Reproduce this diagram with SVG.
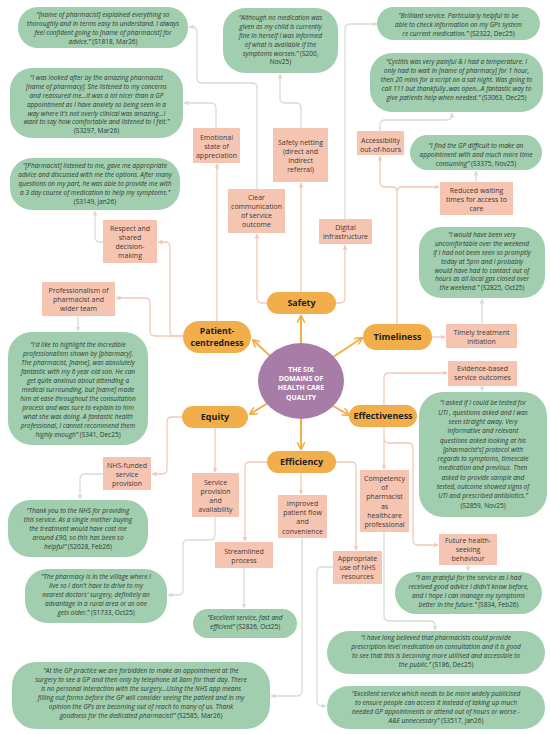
<svg xmlns="http://www.w3.org/2000/svg" width="550" height="734" viewBox="0 0 550 734">
<defs>
<style>
.q{fill:#a0ceae}
.p{fill:#f5c5b2}
.d{fill:#f1ae4b}
.qt{font-family:'Open Sans','Liberation Sans',sans-serif;font-style:italic;font-size:6.5px;fill:#2f3a34;text-anchor:middle}
.n{font-style:normal}
.pt{font-family:'Open Sans','Liberation Sans',sans-serif;font-size:7px;fill:#3d3a38;text-anchor:middle}
.dt{font-family:'Open Sans','Liberation Sans',sans-serif;font-weight:bold;font-size:9px;fill:#222;text-anchor:middle}
.ct{font-family:'Open Sans','Liberation Sans',sans-serif;font-weight:bold;font-size:6.9px;fill:#fff;text-anchor:middle}
.cp{fill:none;stroke:#f2c9ba;stroke-width:1.3}
.cg{fill:none;stroke:#d2e0d6;stroke-width:1.3}
.co{fill:none;stroke:#f1ae4b;stroke-width:2}
</style>
<marker id="ap" viewBox="0 0 10 10" refX="9" refY="5" markerWidth="5" markerHeight="5" orient="auto" markerUnits="userSpaceOnUse"><path d="M0,0 L10,5 L0,10 z" fill="#f2c9ba"/></marker>
<marker id="ag" viewBox="0 0 10 10" refX="9" refY="5" markerWidth="5" markerHeight="5" orient="auto" markerUnits="userSpaceOnUse"><path d="M0,0 L10,5 L0,10 z" fill="#d2e0d6"/></marker>
<marker id="ao" viewBox="0 0 10 10" refX="9" refY="5" markerWidth="8" markerHeight="8" orient="auto" markerUnits="userSpaceOnUse"><path d="M0,0 L10,5 L0,10" fill="none" stroke="#f1ae4b" stroke-width="2"/></marker>
</defs>
<rect width="550" height="734" fill="#fff"/>

<g id="connectors">
<path class="co" marker-end="url(#ao)" d="M301,343 V316"/>
<path class="co" marker-end="url(#ao)" d="M270,356 L253,340"/>
<path class="co" marker-end="url(#ao)" d="M333,357 L362,338"/>
<path class="co" marker-end="url(#ao)" d="M268,403 L250,414"/>
<path class="co" marker-end="url(#ao)" d="M333,406 L349,415"/>
<path class="co" marker-end="url(#ao)" d="M301,419 V449"/>
<path class="cp" marker-end="url(#ap)" d="M267,303 H262 Q257,303 257,298 V234"/>
<path class="cp" marker-end="url(#ap)" d="M301,292 V183"/>
<path class="cp" marker-end="url(#ap)" d="M336,303 H340 Q345,303 345,298 V245"/>
<path class="cp" marker-end="url(#ap)" d="M217,321 V164"/>
<path class="cp" marker-end="url(#ap)" d="M183,336 H175 Q170,336 170,331 V247 Q170,242 165,242 H158"/>
<path class="cp" marker-end="url(#ap)" d="M183,336 H155 Q150,336 150,331 V303 Q150,298 145,298 H116"/>
<path class="cp" marker-end="url(#ap)" d="M397,324 V192 Q397,187 392,187 H385 Q380,187 380,182 V156"/>
<path class="cp" marker-end="url(#ap)" d="M397,192 Q397,187 402,187 H439"/>
<path class="cp" marker-end="url(#ap)" d="M432,337 H445"/>
<path class="cp" marker-end="url(#ap)" d="M384,405 V378 Q384,373 389,373 H447"/>
<path class="cp" marker-end="url(#ap)" d="M384,427 V469"/>
<path class="cp" marker-end="url(#ap)" d="M384,438 Q384,443 389,443 H408 Q413,443 413,448 V540 Q413,545 418,545 H438"/>
<path class="cp" marker-end="url(#ap)" d="M215,428 V472"/>
<path class="cp" marker-end="url(#ap)" d="M182,417 H172 Q167,417 167,422 V469 Q167,474 162,474 H152"/>
<path class="cp" marker-end="url(#ap)" d="M301,473 V494"/>
<path class="cp" marker-end="url(#ap)" d="M267,462 H250 Q245,462 245,467 V541"/>
<path class="cp" marker-end="url(#ap)" d="M336,462 H351 Q356,462 356,467 V550"/>
<path class="cg" marker-end="url(#ag)" d="M257,189 V88 Q257,83 252,83 H202 Q197,83 197,78 V32 Q197,27 192,27 H189"/>
<path class="cg" marker-end="url(#ag)" d="M216,128 V108 Q216,103 211,103 H184"/>
<path class="cg" marker-end="url(#ag)" d="M301,128 V108 Q301,103 296,103 H285 Q280,103 280,98 V74"/>
<path class="cg" marker-end="url(#ag)" d="M345,219 V29 Q345,24 350,24 H377"/>
<path class="cg" marker-end="url(#ag)" d="M380,131 V125 Q380,120 385,120 H447 Q452,120 452,115 V113"/>
<path class="cg" marker-end="url(#ag)" d="M476,182 V171"/>
<path class="cg" marker-end="url(#ag)" d="M482,324 V299"/>
<path class="cg" marker-end="url(#ag)" d="M103,242 H100 Q95,242 95,237 V211"/>
<path class="cg" marker-end="url(#ag)" d="M78,316 V331"/>
<path class="cg" marker-end="url(#ag)" d="M482,386 V391"/>
<path class="cg" marker-end="url(#ag)" d="M384,532 V616 Q384,621 389,621 H430 Q435,621 435,626 V630"/>
<path class="cg" marker-end="url(#ag)" d="M468,565 V571"/>
<path class="cg" marker-end="url(#ag)" d="M103,474 H85 Q80,474 80,479 V499"/>
<path class="cg" marker-end="url(#ag)" d="M215,517 V535 Q215,540 210,540 H188 Q183,540 183,545 V590 Q183,595 178,595 H168"/>
<path class="cg" marker-end="url(#ag)" d="M244,568 V608"/>
<path class="cg" marker-end="url(#ag)" d="M302,538 V691 Q302,696 297,696 H271"/>
<path class="cg" marker-end="url(#ag)" d="M333,567 H322 Q317,567 317,572 V701 Q317,706 322,706 H326"/>
</g>

<g id="center">
<ellipse cx="301" cy="381" rx="43" ry="38" fill="#a77ca6"/>
<text class="ct"><tspan x="301" y="371.5">THE SIX</tspan><tspan x="301" y="380.9">DOMAINS OF</tspan><tspan x="301" y="390.3">HEALTH CARE</tspan><tspan x="301" y="399.7">QUALITY</tspan></text>
</g>

<g id="safety"><rect class="d" x="267" y="292" width="69" height="22" rx="11"/><text class="dt" x="301.5" y="306.2">Safety</text></g>
<g id="patient-centredness"><rect class="d" x="183" y="321" width="68" height="32" rx="16"/><text class="dt" style="font-size:8.7px"><tspan x="217" y="334.2">Patient-</tspan><tspan x="217" y="346.2">centredness</tspan></text></g>
<g id="timeliness"><rect class="d" x="363" y="324" width="69" height="26" rx="13"/><text class="dt" x="397.5" y="340.2">Timeliness</text></g>
<g id="equity"><rect class="d" x="182" y="406" width="66" height="22" rx="11"/><text class="dt" x="215" y="420.2">Equity</text></g>
<g id="effectiveness"><rect class="d" x="349" y="405" width="68" height="22" rx="11"/><text class="dt" x="383" y="419.2">Effectiveness</text></g>
<g id="efficiency"><rect class="d" x="267" y="451" width="69" height="22" rx="11"/><text class="dt" x="301.5" y="465.2">Efficiency</text></g>

<g id="p-emotional"><rect class="p" x="193" y="128" width="47" height="35"/><text class="pt"><tspan x="216.5" y="139.5">Emotional</tspan><tspan x="216.5" y="148.5">state of</tspan><tspan x="216.5" y="157.5">appreciation</tspan></text></g>
<g id="p-safetynet"><rect class="p" x="273" y="128" width="55" height="54"/><text class="pt"><tspan x="300.5" y="144.5">Safety netting</tspan><tspan x="300.5" y="153.5">(direct and</tspan><tspan x="300.5" y="162.5">indirect</tspan><tspan x="300.5" y="171.5">referral)</tspan></text></g>
<g id="p-access"><rect class="p" x="357" y="131" width="47" height="24"/><text class="pt"><tspan x="380.5" y="142.5">Accessibility</tspan><tspan x="380.5" y="151.5">out-of-hours</tspan></text></g>
<g id="p-reduced"><rect class="p" x="440" y="182" width="73" height="33"/><text class="pt"><tspan x="476.5" y="192.5">Reduced waiting</tspan><tspan x="476.5" y="201.5">times for access to</tspan><tspan x="476.5" y="210.5">care</tspan></text></g>
<g id="p-clear"><rect class="p" x="228" y="189" width="57" height="44"/><text class="pt"><tspan x="256.5" y="199.5">Clear</tspan><tspan x="256.5" y="208.5">communication</tspan><tspan x="256.5" y="217.5">of service</tspan><tspan x="256.5" y="226.5">outcome</tspan></text></g>
<g id="p-digital"><rect class="p" x="319" y="219" width="53" height="25"/><text class="pt"><tspan x="345.5" y="229.5">Digital</tspan><tspan x="345.5" y="238.5">infrastructure</tspan></text></g>
<g id="p-respect"><rect class="p" x="103" y="220" width="54" height="43"/><text class="pt"><tspan x="130" y="230.5">Respect and</tspan><tspan x="130" y="239.5">shared</tspan><tspan x="130" y="248.5">decision-</tspan><tspan x="130" y="257.5">making</tspan></text></g>
<g id="p-prof"><rect class="p" x="42" y="282" width="73" height="34"/><text class="pt"><tspan x="78.5" y="292.5">Professionalism of</tspan><tspan x="78.5" y="301.5">pharmacist and</tspan><tspan x="78.5" y="310.5">wider team</tspan></text></g>
<g id="p-timely"><rect class="p" x="446" y="324" width="71" height="24"/><text class="pt"><tspan x="481.5" y="334.5">Timely treatment</tspan><tspan x="481.5" y="343.5">initiation</tspan></text></g>
<g id="p-evidence"><rect class="p" x="448" y="361" width="69" height="25"/><text class="pt"><tspan x="482.5" y="370.8">Evidence-based</tspan><tspan x="482.5" y="380">service outcomes</tspan></text></g>
<g id="p-nhs"><rect class="p" x="103" y="457" width="48" height="33"/><text class="pt"><tspan x="127" y="467.5">NHS-funded</tspan><tspan x="127" y="476.5">service</tspan><tspan x="127" y="485.5">provision</tspan></text></g>
<g id="p-service"><rect class="p" x="192" y="473" width="47" height="44"/><text class="pt"><tspan x="215.5" y="484.5">Service</tspan><tspan x="215.5" y="493.5">provision</tspan><tspan x="215.5" y="502.5">and</tspan><tspan x="215.5" y="511.5">availability</tspan></text></g>
<g id="p-improved"><rect class="p" x="278" y="495" width="49" height="43"/><text class="pt"><tspan x="302.5" y="505.5">Improved</tspan><tspan x="302.5" y="514.5">patient flow</tspan><tspan x="302.5" y="524">and</tspan><tspan x="302.5" y="533.5">convenience</tspan></text></g>
<g id="p-compet"><rect class="p" x="360" y="470" width="49" height="62"/><text class="pt"><tspan x="384.5" y="480.5">Competency</tspan><tspan x="384.5" y="489.5">of</tspan><tspan x="384.5" y="499">pharmacist</tspan><tspan x="384.5" y="508.5">as</tspan><tspan x="384.5" y="517.5">healthcare</tspan><tspan x="384.5" y="526.5">professional</tspan></text></g>
<g id="p-future"><rect class="p" x="439" y="534" width="58" height="31"/><text class="pt"><tspan x="468" y="542.5">Future health-</tspan><tspan x="468" y="551.5">seeking</tspan><tspan x="468" y="560.5">behaviour</tspan></text></g>
<g id="p-stream"><rect class="p" x="215" y="542" width="58" height="26"/><text class="pt"><tspan x="244" y="553.5">Streamlined</tspan><tspan x="244" y="563">process</tspan></text></g>
<g id="p-approp"><rect class="p" x="333" y="551" width="49" height="33"/><text class="pt"><tspan x="357.5" y="560.5">Appropriate</tspan><tspan x="357.5" y="569.5">use of NHS</tspan><tspan x="357.5" y="578.5">resources</tspan></text></g>

<g id="q1"><rect class="q" x="18" y="7" width="170" height="41" rx="20"/><text class="qt"><tspan x="103" y="17.3">“[name of pharmacist] explained everything so</tspan><tspan x="103" y="26.3">thoroughly and in terms easy to understand. I always</tspan><tspan x="103" y="35.3">feel confident going to [name of pharmacist] for</tspan><tspan x="103" y="44.3">advice.” <tspan class="n">(S1818, Mar26)</tspan></tspan></text></g>
<g id="q2"><rect class="q" x="10" y="68" width="173" height="70" rx="22"/><text class="qt"><tspan x="96.5" y="80.3">“I was looked after by the amazing pharmacist</tspan><tspan x="96.5" y="89.1">[name of pharmacy]. She listened to my concerns</tspan><tspan x="96.5" y="97.9">and reassured me...it was a lot nicer than a GP</tspan><tspan x="96.5" y="106.7">appointment as I have anxiety so being seen in a</tspan><tspan x="96.5" y="115.5">way where it's not overly clinical was amazing...I</tspan><tspan x="96.5" y="124.3">want to say how comfortable and listened to I felt.”</tspan><tspan x="96.5" y="133.1" class="n">(S3297, Mar26)</tspan></text></g>
<g id="q3"><rect class="q" x="10" y="158" width="170" height="52" rx="22"/><text class="qt"><tspan x="95" y="168.3">“[Pharmacist] listened to me, gave me appropriate</tspan><tspan x="95" y="177.3">advice and discussed with me the options. After many</tspan><tspan x="95" y="186.3">questions on my part, he was able to provide me with</tspan><tspan x="95" y="195.3">a 3 day course of medication to help my symptoms.”</tspan><tspan x="95" y="204.3" class="n">(S3149, Jan26)</tspan></text></g>
<g id="q4"><rect class="q" x="223" y="8" width="115" height="65" rx="22"/><text class="qt"><tspan x="280.5" y="20.3">“Although no medication was</tspan><tspan x="280.5" y="29.1">given as my child is currently</tspan><tspan x="280.5" y="37.9">fine in herself I was informed</tspan><tspan x="280.5" y="46.7">of what is available if the</tspan><tspan x="280.5" y="55.5">symptoms worsen.” <tspan class="n">(S200,</tspan></tspan><tspan x="280.5" y="64.3" class="n">Nov25)</tspan></text></g>
<g id="q5"><rect class="q" x="377" y="7" width="163" height="33" rx="16.5"/><text class="qt"><tspan x="458.5" y="18.3">“Brilliant service. Particularly helpful to be</tspan><tspan x="458.5" y="27.3">able to check information on my GPs system</tspan><tspan x="458.5" y="36.3">re current medication.” <tspan class="n">(S2322, Dec25)</tspan></tspan></text></g>
<g id="q6"><rect class="q" x="370" y="53" width="173" height="59" rx="22"/><text class="qt"><tspan x="456.5" y="64.3">“Cystitis was very painful &amp; I had a temperature. I</tspan><tspan x="456.5" y="73.3">only had to wait in [name of pharmacy] for 1 hour,</tspan><tspan x="456.5" y="82.3">then 20 mins for a script on a sat night. Was going to</tspan><tspan x="456.5" y="91.3">call 111 but thankfully..was open...A fantastic way to</tspan><tspan x="456.5" y="100.3">give patients help when needed.” <tspan class="n">(S3063, Dec25)</tspan></tspan></text></g>
<g id="q7"><rect class="q" x="410" y="135" width="132" height="35" rx="17.5"/><text class="qt"><tspan x="476" y="148.3">“I find the GP difficult to make an</tspan><tspan x="476" y="157.3">appointment with and much more time</tspan><tspan x="476" y="166.3">consuming” <tspan class="n">(S3375, Nov25)</tspan></tspan></text></g>
<g id="q8"><rect class="q" x="419" y="227" width="126" height="71" rx="22"/><text class="qt"><tspan x="482" y="237.3">“I would have been very</tspan><tspan x="482" y="246.1">uncomfortable over the weekend</tspan><tspan x="482" y="254.9">if I had not been seen so promptly</tspan><tspan x="482" y="263.7">today at 5pm and I probably</tspan><tspan x="482" y="272.5">would have had to contact out of</tspan><tspan x="482" y="281.3">hours as all local gps closed over</tspan><tspan x="482" y="290.1">the weekend.” <tspan class="n">(S2825, Oct25)</tspan></tspan></text></g>
<g id="q9"><rect class="q" x="419" y="392" width="128" height="125" rx="24"/><text class="qt"><tspan x="483" y="405.3">“I asked if I could be tested for</tspan><tspan x="483" y="414.6">UTI , questions asked and I was</tspan><tspan x="483" y="423.9">seen straight away. Very</tspan><tspan x="483" y="433.2">informative and relevant</tspan><tspan x="483" y="442.5">questions asked looking at his</tspan><tspan x="483" y="451.8">[pharmacist's] protocol with</tspan><tspan x="483" y="461.1">regards to symptoms, timescale</tspan><tspan x="483" y="470.4">medication and previous. Then</tspan><tspan x="483" y="479.7">asked to provide sample and</tspan><tspan x="483" y="489">tested, outcome showed signs of</tspan><tspan x="483" y="498.3">UTI and prescribed antibiotics.”</tspan><tspan x="483" y="507.6" class="n">(S2859, Nov25)</tspan></text></g>
<g id="q10"><rect class="q" x="395" y="572" width="147" height="42" rx="21"/><text class="qt"><tspan x="468.5" y="580.3">“I am grateful for the service as I had</tspan><tspan x="468.5" y="589.3">received good advice I didn't know before,</tspan><tspan x="468.5" y="598.3">and I hope I can manage my symptoms</tspan><tspan x="468.5" y="607.3">better in the future.” <tspan class="n">(S834, Feb26)</tspan></tspan></text></g>
<g id="q11"><rect class="q" x="327" y="631" width="218" height="43" rx="21.5"/><text class="qt"><tspan x="436" y="640.3">“I have long believed that pharmacists could provide</tspan><tspan x="436" y="649.3">prescription level medication on consultation and it is good</tspan><tspan x="436" y="658.3">to see that this is becoming more utilised and accessible to</tspan><tspan x="436" y="667.3">the public.” <tspan class="n">(S186, Dec25)</tspan></tspan></text></g>
<g id="q12"><rect class="q" x="327" y="686" width="218" height="43" rx="21.5"/><text class="qt"><tspan x="436" y="696.3">“Excellent service which needs to be more widely publicised</tspan><tspan x="436" y="705.3">to ensure people can access it instead of taking up much</tspan><tspan x="436" y="714.3">needed GP appointments or attend out of hours or worse -</tspan><tspan x="436" y="723.3">A&amp;E unnecessary” <tspan class="n">(S3517, Jan26)</tspan></tspan></text></g>
<g id="q13"><rect class="q" x="12" y="662" width="258" height="67" rx="24"/><text class="qt"><tspan x="141" y="673.3">“At the GP practice we are forbidden to make an appointment at the</tspan><tspan x="141" y="682.3">surgery to see a GP and then only by telephone at 8am for that day. There</tspan><tspan x="141" y="691.3">is no personal interaction with the surgery...Using the NHS app means</tspan><tspan x="141" y="700.3">filling out forms before the GP will consider seeing the patient and in my</tspan><tspan x="141" y="709.3">opinion the GPs are becoming out of reach to many of us. Thank</tspan><tspan x="141" y="718.3">goodness for the dedicated pharmacist!” <tspan class="n">(S2585, Mar26)</tspan></tspan></text></g>
<g id="q14"><rect class="q" x="193" y="609" width="104" height="29" rx="14.5"/><text class="qt"><tspan x="245" y="620.3">“Excellent service, fast and</tspan><tspan x="245" y="629.3">efficient” <tspan class="n">(S2826, Oct25)</tspan></tspan></text></g>
<g id="q15"><rect class="q" x="25" y="569" width="142" height="54" rx="22"/><text class="qt"><tspan x="96" y="579.3">“The pharmacy is in the village where I</tspan><tspan x="96" y="588.3">live so I don't have to drive to my</tspan><tspan x="96" y="597.3">nearest doctors' surgery, definitely an</tspan><tspan x="96" y="606.3">advantage in a rural area or as one</tspan><tspan x="96" y="615.3">gets older.” <tspan class="n">(S1733, Oct25)</tspan></tspan></text></g>
<g id="q16"><rect class="q" x="8" y="500" width="140" height="57" rx="22"/><text class="qt"><tspan x="78" y="513.3">“Thank you to the NHS for providing</tspan><tspan x="78" y="522.3">this service. As a single mother buying</tspan><tspan x="78" y="531.3">the treatment would have cost me</tspan><tspan x="78" y="540.3">around £90, so this has been so</tspan><tspan x="78" y="549.3">helpful” <tspan class="n">(S2028, Feb26)</tspan></tspan></text></g>
<g id="q17"><rect class="q" x="8" y="332" width="140" height="113" rx="24"/><text class="qt"><tspan x="78" y="347.3">“I'd like to highlight the incredible</tspan><tspan x="78" y="356.3">professionalism shown by [pharmacy].</tspan><tspan x="78" y="365.2">The pharmacist, [name], was absolutely</tspan><tspan x="78" y="374.1">fantastic with my 6 year old son. He can</tspan><tspan x="78" y="383.1">get quite anxious about attending a</tspan><tspan x="78" y="392">medical surrounding, but [name] made</tspan><tspan x="78" y="401">him at ease throughout the consultation</tspan><tspan x="78" y="409.9">process and was sure to explain to him</tspan><tspan x="78" y="418.9">what she was doing. A fantastic health</tspan><tspan x="78" y="427.8">professional, I cannot recommend them</tspan><tspan x="78" y="436.8">highly enough” <tspan class="n">(S341, Dec25)</tspan></tspan></text></g>
</svg>
